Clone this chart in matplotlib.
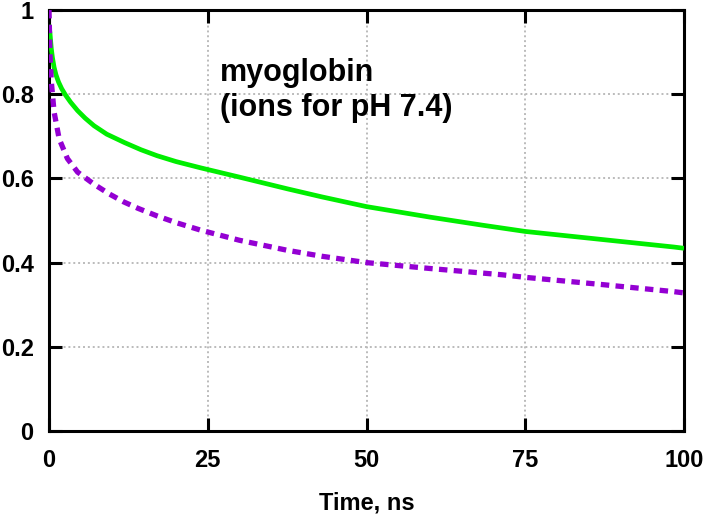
import numpy as np
import matplotlib.pyplot as plt

# values
t_green = [0.0, 0.16, 0.35, 0.53, 0.8, 1.1, 1.5, 2.0, 2.6, 3.4, 4.5, 5.7, 7.1, 9.1, 11.9,
           14.5, 17.0, 20.0, 23.9, 30.0, 37.6, 43.0, 50.0, 60.0, 68.2, 75.0, 87.0, 98.4, 100.0]
y_green = [0.965, 0.944, 0.910, 0.888, 0.864, 0.846, 0.829, 0.813, 0.798, 0.781, 0.761, 0.743,
           0.725, 0.705, 0.685, 0.668, 0.654, 0.640, 0.625, 0.603, 0.575, 0.556, 0.533, 0.508,
           0.489, 0.474, 0.455, 0.437, 0.434]

t_purple = [0.0, 0.16, 0.37, 0.8, 1.6, 2.9, 4.5, 7.1, 9.5, 11.8, 14.0, 17.0, 20.0, 23.9,
            30.0, 37.6, 43.0, 50.0, 60.0, 71.4, 75.0, 87.0, 98.4, 100.0]
y_purple = [1.0, 0.892, 0.829, 0.758, 0.694, 0.647, 0.615, 0.586, 0.563, 0.544, 0.529, 0.511,
            0.495, 0.477, 0.453, 0.429, 0.415, 0.400, 0.386, 0.371, 0.365, 0.348, 0.331, 0.328]

xticks = [0, 25, 50, 75, 100]
yticks = [0, 0.2, 0.4, 0.6, 0.8, 1]
ytick_labels = ["0", "0.2", "0.4", "0.6", "0.8", "1"]

plt.rcParams['font.family'] = ['Liberation Sans', 'DejaVu Sans']
plt.rcParams['font.weight'] = 'bold'

fig = plt.figure(figsize=(7.06, 5.21), dpi=100)
ax = fig.add_axes([49/706, 1 - 431/521, (684 - 49)/706, (431 - 10)/521])

ax.plot(t_green, y_green, color='#00ee00', lw=3.4, solid_capstyle='butt',
        solid_joinstyle='round', zorder=3)
ax.plot(t_purple, y_purple, color='#9400d3', lw=3.8, linestyle=(0, (1.6, 1.2)), zorder=3)

ax.set_xlim(0, 100)
ax.set_ylim(0, 1)
ax.set_xticks(xticks)
ax.set_yticks(yticks)
ax.set_yticklabels(ytick_labels)
ax.grid(True, color='#bbbbbb', linestyle=(0, (1, 1.5)), linewidth=1.4)
ax.set_axisbelow(True)

for s in ax.spines.values():
    s.set_linewidth(2.2)
ax.tick_params(direction='in', length=9.5, width=2.2, top=True, right=True,
               labelsize=17, pad=11)
ax.tick_params(axis='x', pad=13)

ax.set_xlabel("Time, ns", fontsize=17, fontweight='bold', labelpad=14)

ax.text(26.9, 0.885, "myoglobin\n(ions for pH 7.4)", fontsize=22, fontweight='bold',
        va='top', ha='left', linespacing=1.2)

fig.savefig("out.png", dpi=100)
